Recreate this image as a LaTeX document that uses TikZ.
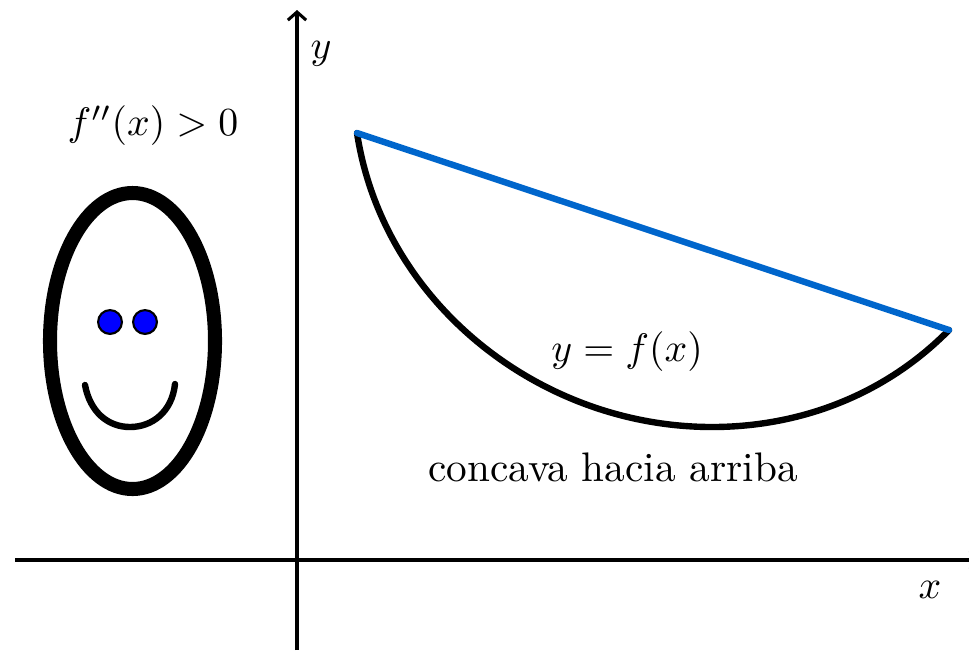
\documentclass[tikz,border=0pt]{standalone}
\usetikzlibrary{arrows.meta}
\definecolor{chordblue}{RGB}{0,102,204}
\tikzset{
  axis/.style={line width=0.72pt,-{Straight Barb[length=1.9pt,width=4.3pt,line width=0.72pt]}},
  graphline/.style={line width=1.5pt,line cap=round},
  eye/.style={circle,draw=black,fill=blue,line width=0.5pt,minimum size=5.6pt,inner sep=0pt},
  lbl/.style={inner sep=0pt,anchor=center,scale=0.97},
  mathlbl/.style={inner sep=0pt,anchor=center,scale=0.935}
}
\begin{document}
\begin{tikzpicture}[x=0.235pt,y=-0.235pt]
\useasboundingbox (0,0) rectangle (969,650);
\clip (0,0) rectangle (969,650);
\coordinate (xs) at (15,560);
\coordinate (xe) at (980,560);
\coordinate (ys) at (297,650);
\coordinate (ye) at (297,10);
\draw[axis] (xs) -- (xe);
\draw[axis] (ys) -- (ye);
\coordinate (p) at (357,133);
\coordinate (m) at (712,427);
\coordinate (q) at (949,330);
\draw[graphline] (p) .. controls (383,303) and (540,427) .. (m) .. controls (800,427) and (885,395) .. (q);
\draw[graphline,chordblue] (p) -- (q);
\node[mathlbl] (ly) at (321,54) {$y$};
\node[mathlbl] (lx) at (930,590) {$x$};
\node[mathlbl] (lf) at (153,126) {$f''(x)>0$};
\node[mathlbl] (lyf) at (627,352) {$y=f(x)$};
\node[lbl] (lc) at (613,467) {concava hacia arriba};
\draw[line width=3.3pt] (132.5,341) ellipse [x radius=82.5,y radius=148];
\node[eye] (e1) at (110,322) {};
\node[eye] (e2) at (145,322) {};
\coordinate (s1) at (85,385);
\coordinate (s2) at (175,384);
\draw[line width=1.5pt,line cap=round] (s1) .. controls (90,412) and (108,427) .. (130,427) .. controls (152,427) and (172,412) .. (s2);
\end{tikzpicture}
\end{document}
